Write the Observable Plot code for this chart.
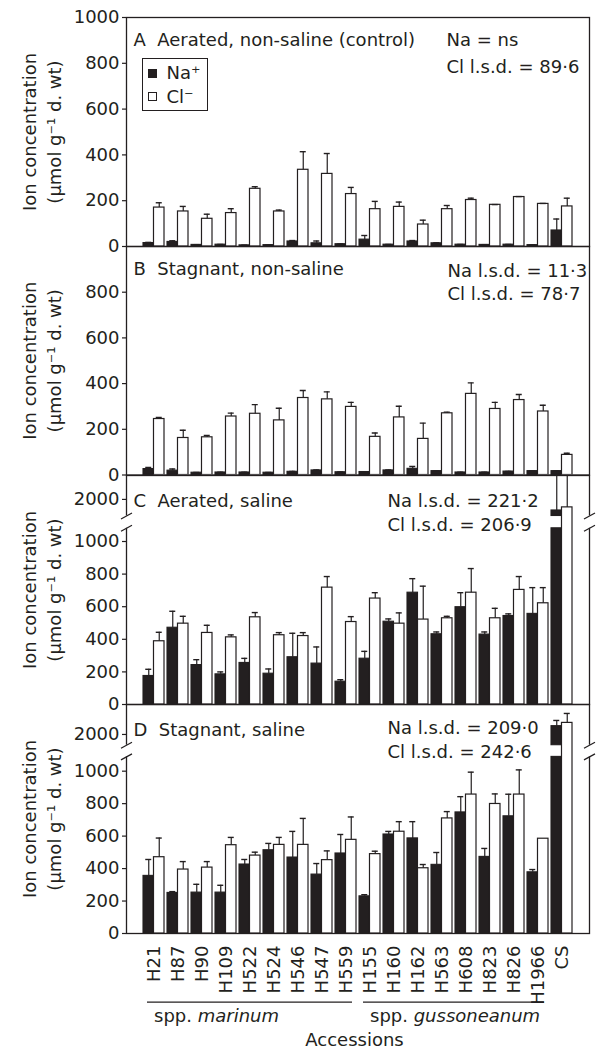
<!DOCTYPE html>
<html><head><meta charset="utf-8">
<script src="https://cdn.jsdelivr.net/npm/d3@7"></script>
<script src="https://cdn.jsdelivr.net/npm/@observablehq/plot@0.6"></script>
<style>
body{margin:0;background:#fff;}
#fig{position:relative;width:598px;height:1054px;font-family:"DejaVu Sans",sans-serif;color:#231f20;overflow:hidden;}
.panel{position:absolute;left:0;}
#legend{position:absolute;left:141.5px;top:58px;width:66.5px;height:53px;border:1.3px solid #231f20;box-sizing:border-box;font-size:18px;background:#fff;}
#legend .sw{position:absolute;left:5.5px;width:9px;height:9px;box-sizing:border-box;border:1.2px solid #231f20;}
#legend .lb{position:absolute;left:24px;line-height:20px;white-space:nowrap;}
</style></head><body><div id="fig"></div>
<script>
const accessions = ["H21","H87","H90","H109","H522","H524","H546","H547","H559","H155","H160","H162","H563","H608","H823","H826","H1966","CS"];
const subspecies = [
  {name: "marinum", first: "H21", last: "H559"},
  {name: "gussoneanum", first: "H155", last: "H1966"}
];

// Panel A: aerated, non-saline (control)
const naA    = [15, 20, 7, 8, 5, 6, 22, 14, 10, 30, 8, 22, 14, 8, 7, 8, 6, 70];
const naAErr = [3, 5, 1, 1, 1, 1, 4, 10, 1, 18, 1, 4, 2, 1, 1, 1, 1, 50];
const clA    = [170, 153, 121, 146, 252, 153, 335, 317, 229, 163, 173, 96, 163, 203, 182, 216, 186, 175];
const clAErr = [21, 22, 20, 19, 9, 6, 79, 89, 29, 34, 21, 19, 16, 8, 1, 2, 2, 36];

// Panel B: stagnant, non-saline
const naB    = [26, 19, 10, 11, 11, 10, 14, 20, 12, 13, 20, 27, 17, 11, 11, 15, 17, 17];
const naBErr = [7, 7, 1, 1, 1, 1, 2, 2, 1, 1, 2, 10, 1, 1, 1, 1, 1, 1];
const clB    = [245, 162, 165, 256, 268, 239, 337, 331, 298, 167, 252, 158, 270, 355, 289, 328, 278, 88];
const clBErr = [7, 34, 8, 15, 40, 53, 33, 33, 20, 17, 49, 69, 5, 48, 29, 24, 27, 7];

// Panel C: aerated, saline
const naC    = [175, 471, 242, 185, 255, 189, 290, 251, 140, 281, 508, 686, 431, 597, 429, 543, 556, 1932];
const naCErr = [41, 101, 33, 15, 28, 29, 147, 102, 12, 45, 17, 86, 14, 89, 16, 13, 161, 400];
const clC    = [388, 496, 439, 412, 535, 425, 420, 717, 506, 650, 496, 521, 529, 686, 529, 703, 621, 1951];
const clCErr = [55, 45, 47, 15, 29, 16, 21, 68, 33, 36, 66, 205, 12, 148, 61, 82, 96, 400];

// Panel D: stagnant, saline
const naD    = [355, 250, 252, 252, 425, 513, 468, 363, 493, 229, 610, 586, 423, 746, 472, 722, 377, 2051];
const naDErr = [101, 8, 51, 45, 31, 42, 161, 68, 117, 10, 19, 103, 76, 97, 52, 136, 17, 35];
const clD    = [470, 394, 406, 544, 480, 546, 546, 452, 577, 489, 627, 402, 709, 856, 798, 856, 584, 2071];
const clDErr = [118, 49, 37, 48, 21, 46, 163, 57, 141, 18, 62, 23, 42, 138, 62, 152, 0, 58];

const ticksA = [0, 200, 400, 600, 800, 1000];
const ticksB = [0, 200, 400, 600, 800];
const ticksSaline = [0, 200, 400, 600, 800, 1000, 2000];

const panels = [
  {title: "A  Aerated, non-saline (control)", na: naA, naErr: naAErr, cl: clA, clErr: clAErr,
   lsd: ["Na = ns", "Cl l.s.d. = 89·6"], ticks: ticksA, domain: [0, 1000]},
  {title: "B  Stagnant, non-saline", na: naB, naErr: naBErr, cl: clB, clErr: clBErr,
   lsd: ["Na l.s.d. = 11·3", "Cl l.s.d. = 78·7"], ticks: ticksB, domain: [0, 1000]},
  {title: "C  Aerated, saline", na: naC, naErr: naCErr, cl: clC, clErr: clCErr,
   lsd: ["Na l.s.d. = 221·2", "Cl l.s.d. = 206·9"], ticks: ticksSaline, domain: [0, 1081, 1898, 2147]},
  {title: "D  Stagnant, saline", na: naD, naErr: naDErr, cl: clD, clErr: clDErr,
   lsd: ["Na l.s.d. = 209·0", "Cl l.s.d. = 242·6"], ticks: ticksSaline, domain: [0, 1088, 1934, 2184]}
];

// layout (page pixels); px = heights of the broken-axis segment ends above the baseline
const geometry = [
  {top: 17, bottom: 246, titleDy: 16, lsdX: 446, lsdDy: [16, 42.5]},
  {top: 246, bottom: 474.5, titleDy: 16, lsdX: 447, lsdDy: [17.3, 40.7]},
  {top: 474.5, bottom: 703.5, titleDy: 18.8, lsdX: 387, lsdDy: [18.8, 42.8], px: [0, 176.2, 188.5, 229]},
  {top: 703.5, bottom: 932.5, titleDy: 18.5, lsdX: 387, lsdDy: [16.5, 40.5], px: [0, 176.6, 188.3, 229]}
];

const W = 598, ML = 126, MR = 9, MT = 20, PAGE_H = 1054;
const ink = "#231f20";
const bandOpts = {type: "band", domain: accessions, paddingInner: 0.14, paddingOuter: 0.557};
const bw = Plot.scale({x: {...bandOpts, range: [ML, W - MR]}}).bandwidth;
const cap = 3;
const slash = {draw(ctx) { ctx.moveTo(-5.5, 3); ctx.lineTo(5.5, -3); }};

const fig = document.getElementById("fig");

panels.forEach((p, idx) => {
  const g = geometry[idx];
  const H = g.bottom - g.top;
  const last = idx === panels.length - 1;
  const MB = last ? PAGE_H - g.bottom : 20;
  const hasBreak = p.domain.length === 4;
  // broken value axis: values -> display units (pixels above the baseline)
  const disp = d3.scaleLinear().domain(p.domain).range(hasBreak ? g.px : [0, H]);
  const rows = accessions.map((acc, i) => ({acc, na: p.na[i], naErr: p.naErr[i], cl: p.cl[i], clErr: p.clErr[i]}));
  const low = hasBreak ? p.domain[1] : Infinity;
  const high = hasBreak ? p.domain[2] : Infinity;

  const marks = [Plot.frame({stroke: ink, strokeWidth: 1.3})];
  if (hasBreak) {
    marks.push(Plot.rect([0], {y1: () => disp(low), y2: () => disp(high), fill: "white", insetLeft: -5, insetRight: -5}));
  }
  marks.push(
    Plot.barY(rows, {x: "acc", y1: () => 0, y2: d => disp(Math.min(d.na, low)), fill: ink, stroke: ink, strokeWidth: 1.1, insetRight: bw / 2})
  );
  if (hasBreak) {
    marks.push(Plot.barY(rows.filter(d => d.na > high), {x: "acc", y1: () => disp(high), y2: d => disp(d.na), fill: ink, stroke: ink, strokeWidth: 1.1, insetRight: bw / 2, clip: true}));
  }
  marks.push(
    Plot.barY(rows, {x: "acc", y1: () => 0, y2: d => disp(d.cl), fill: "white", stroke: ink, strokeWidth: 1.2, insetLeft: bw / 2, clip: true}),
    Plot.ruleX(rows.filter(d => d.naErr > 0), {x: "acc", y1: d => disp(d.na), y2: d => disp(d.na + d.naErr), dx: -bw / 4, stroke: ink, strokeWidth: 1.2, clip: true}),
    Plot.tickY(rows.filter(d => d.naErr > 0), {x: "acc", y: d => disp(d.na + d.naErr), insetLeft: bw / 4 - cap, insetRight: 3 * bw / 4 - cap, stroke: ink, strokeWidth: 1.4, clip: true}),
    Plot.ruleX(rows.filter(d => d.clErr > 0), {x: "acc", y1: d => disp(d.cl), y2: d => disp(d.cl + d.clErr), dx: bw / 4, stroke: ink, strokeWidth: 1.2, clip: true}),
    Plot.tickY(rows.filter(d => d.clErr > 0), {x: "acc", y: d => disp(d.cl + d.clErr), insetLeft: 3 * bw / 4 - cap, insetRight: bw / 4 - cap, stroke: ink, strokeWidth: 1.4, clip: true})
  );
  if (hasBreak) {
    const br = [low, high];
    marks.push(
      Plot.dot(br, {y: d => disp(d), frameAnchor: "left", symbol: slash, stroke: ink, strokeWidth: 1.2, fill: "none"}),
      Plot.dot(br, {y: d => disp(d), frameAnchor: "right", symbol: slash, stroke: ink, strokeWidth: 1.2, fill: "none"})
    );
  }
  marks.push(
    Plot.axisY({ticks: p.ticks.map(disp), tickSize: 4, tickPadding: 3, tickFormat: d => String(Math.round(disp.invert(d))), label: null, stroke: ink, strokeWidth: 1.2, fill: ink}),
    Plot.text([p.title], {frameAnchor: "top-left", dx: 7, dy: g.titleDy, textAnchor: "start", fill: ink}),
    Plot.text([p.lsd[0]], {frameAnchor: "top-left", dx: g.lsdX - ML, dy: g.lsdDy[0], textAnchor: "start", fill: ink}),
    Plot.text([p.lsd[1]], {frameAnchor: "top-left", dx: g.lsdX - ML, dy: g.lsdDy[1], textAnchor: "start", fill: ink}),
    Plot.text(["Ion concentration\n(µmol g⁻¹ d. wt)"], {frameAnchor: "left", textAnchor: "middle", dx: -86.5, rotate: -90, lineHeight: 1.39, fill: ink})
  );
  if (last) {
    marks.push(
      Plot.axisX({tickRotate: -90, tickSize: 0, tickPadding: 12, label: null, fill: ink}),
      Plot.ruleY(subspecies, {x1: "first", x2: "last", y: () => 0, dy: 68.7, insetLeft: 4, insetRight: 4, stroke: ink, strokeWidth: 1.2}),
      Plot.text(subspecies, {x: "first", y: () => 0, dy: 82.7, text: d => "spp. " + d.name, textAnchor: "start", fill: ink}),
      Plot.text(["Accessions"], {frameAnchor: "bottom", textAnchor: "middle", dx: -3.5, dy: 112.7, fill: ink})
    );
  }

  const chart = Plot.plot({
    width: W, height: MT + H + MB,
    marginLeft: ML, marginRight: MR, marginTop: MT, marginBottom: MB,
    style: {fontFamily: "'DejaVu Sans', sans-serif", fontSize: "18px", background: "transparent", overflow: "visible", color: ink},
    x: {...bandOpts, axis: null},
    y: {domain: [0, H], axis: null},
    marks
  });
  // italicise the subspecies names
  chart.querySelectorAll("text").forEach(t => {
    const s = subspecies.find(sp => t.textContent === "spp. " + sp.name);
    if (s) {
      t.textContent = "spp. ";
      const ts = document.createElementNS("http://www.w3.org/2000/svg", "tspan");
      ts.setAttribute("font-style", "italic");
      ts.textContent = s.name;
      t.appendChild(ts);
    }
  });
  const wrap = document.createElement("div");
  wrap.className = "panel";
  wrap.style.top = (g.top - MT) + "px";
  wrap.appendChild(chart);
  fig.appendChild(wrap);
});

// legend inside panel A
const legend = document.createElement("div");
legend.id = "legend";
legend.innerHTML =
  '<div class="sw" style="top:9.5px;background:#231f20"></div><div class="lb" style="top:4px">Na⁺</div>' +
  '<div class="sw" style="top:33px;background:#fff"></div><div class="lb" style="top:27.5px">Cl⁻</div>';
fig.appendChild(legend);
</script>
</body></html>
